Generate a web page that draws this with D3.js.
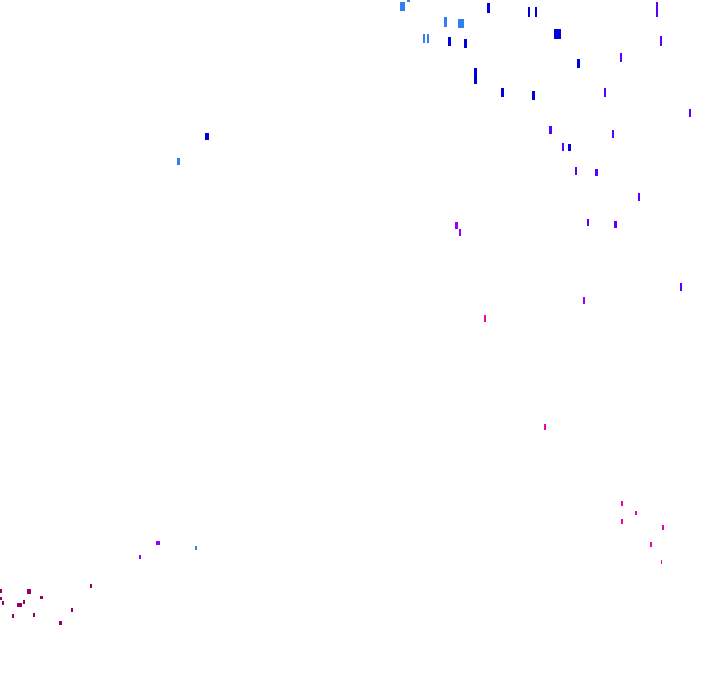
<!DOCTYPE html>
<html><head><meta charset="utf-8">
<script src="https://cdn.jsdelivr.net/npm/d3@7"></script>
<style>html,body{margin:0;padding:0;background:#fff;}svg{display:block;}</style>
</head><body>
<svg id="chart" width="720" height="692"></svg>
<script>
// Each mark: group, x (left), y low, y high, horizontal span
const groups = ["lightblue","blue","violet","purple","magenta","darkred"];
const groupColors = ["#347ef4","#0000d8","#5a00ff","#9600ff","#ee00ae","#960060"];

const markGroup = [
 "lightblue","lightblue","lightblue","lightblue","lightblue","lightblue","lightblue","lightblue",
 "blue","blue","blue","blue","blue","blue","blue","blue","blue","blue","blue","blue",
 "violet","violet","violet","violet","violet","violet","violet","violet","violet","violet","violet","violet","violet","violet",
 "purple","purple","purple","purple","purple","purple",
 "magenta","magenta","magenta","magenta","magenta","magenta","magenta","magenta",
 "darkred","darkred","darkred","darkred","darkred","darkred","darkred","darkred","darkred","darkred","darkred","darkred"
];
const markX = [
 400,407,444,458,423,427,177,195,
 487,528,535,554,448,464,577,474,501,532,205,568,
 656,660,620,604,689,549,612,562,575,595,587,614,680,638,
 455,459,583,156,139,159,
 484,544,621,635,621,662,650,661,
 0,27,0,2,17,23,40,90,71,12,33,59
];
const markY0 = [
 2,0,17,19,34,34,158,546,
 3,7,7,29,37,39,59,68,88,91,133,144,
 2,36,53,88,109,126,130,143,167,169,219,221,283,193,
 222,229,297,541,555,541,
 315,424,501,511,519,525,542,560,
 589,589,597,601,603,600,596,584,608,614,613,621
];
const markY1 = [
 11,2,27,28,43,43,165,550,
 13,17,17,39,46,48,68,84,97,100,140,151,
 17,46,62,97,117,134,138,151,175,176,226,228,291,201,
 229,236,304,545,559,545,
 322,430,506,515,524,530,547,564,
 593,594,600,605,607,604,599,588,612,618,617,625
];
const markSpan = [
 5,3,3,6,2,2,3,2,
 3,2,2,7,3,3,3,3,3,3,4,3,
 2,2,2,2,2,3,2,2,2,3,2,3,2,2,
 3,2,2,3,2,1,
 2,2,2,2,2,2,2,1,
 2,4,2,2,5,2,3,2,2,2,2,3
];

const W = 720, H = 692;
const data = markX.map((x,i)=>({g:markGroup[i], x, y0:markY0[i], y1:markY1[i], s:markSpan[i]}));

const xScale = d3.scaleLinear().domain([0,720]).range([0,W]);
const yScale = d3.scaleLinear().domain([0,692]).range([0,H]);
const color = d3.scaleOrdinal().domain(groups).range(groupColors);

const svg = d3.select("#chart");
svg.append("g").selectAll("rect").data(data).join("rect")
  .attr("x", d=>xScale(d.x))
  .attr("y", d=>yScale(d.y0))
  .attr("width", d=>xScale(d.x + d.s) - xScale(d.x))
  .attr("height", d=>yScale(d.y1) - yScale(d.y0))
  .attr("fill", d=>color(d.g));
</script>
</body></html>
